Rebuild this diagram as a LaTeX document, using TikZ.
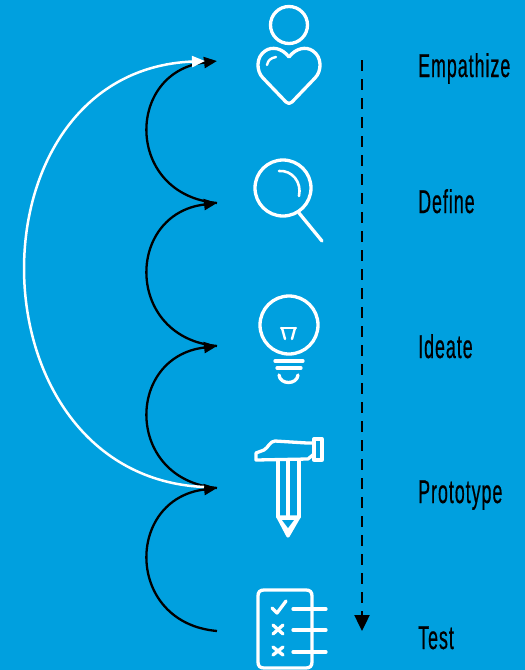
\documentclass[tikz,border=0pt]{standalone}
\usepackage{fontspec}
\setmainfont[FakeStretch=0.54, LetterSpace=3, FakeBold=0.5]{Liberation Sans}
\definecolor{ctrlBlue}{HTML}{00A0DF}
\usetikzlibrary{arrows.meta}
\begin{document}
\begin{tikzpicture}[x=1pt, y=-1pt,
    labelStyle/.style={anchor=base west, inner sep=0pt, text=black, font=\fontsize{33}{36}\selectfont},
    iconStyle/.style={draw=white, line width=3.3pt, line cap=round, line join=round},
    blackArrowStyle/.style={-{Triangle[length=13pt, width=11pt]}, black, line width=2.3pt},
    whiteArrowStyle/.style={-{Triangle[length=13pt, width=11pt]}, white, line width=2.5pt},
    dashArrowStyle/.style={-{Triangle[length=16pt, width=15pt]}, black, line width=2.4pt, dash pattern=on 11pt off 8pt}]

    % Background, fixes the page size
    \fill[ctrlBlue] (0, 0) rectangle (525, 670);
    \useasboundingbox (0, 0) rectangle (525, 670);

    % Stage labels
    \node[labelStyle] (sfEmpathize) at (418, 77) {Empathize};
    \node[labelStyle] (sfDefine) at (418, 213) {Define};
    \node[labelStyle] (sfIdeate) at (418, 358) {Ideate};
    \node[labelStyle] (sfPrototype) at (418, 503) {Prototype};
    \node[labelStyle] (sfTest) at (418, 649) {Test};

    % Arrow end points
    \coordinate (stepE) at (217, 61);
    \coordinate (stepEw) at (205, 61);
    \coordinate (stepD) at (217, 203);
    \coordinate (stepI) at (217, 346);
    \coordinate (stepP) at (217, 488);
    \coordinate (stepPw) at (204, 487);
    \coordinate (stepT) at (217, 631);
    \coordinate (flowTop) at (362, 60);
    \coordinate (flowEnd) at (362, 631);

    % Icons
    \draw[iconStyle] (289, 25) circle (18.5);
    \draw[iconStyle] (289, 57) .. controls (282, 48) and (272, 46) .. (265, 51)
        .. controls (256, 57) and (256, 71) .. (263, 78) -- (286, 102)
        .. controls (288, 104) and (290, 104) .. (292, 102) -- (315, 78)
        .. controls (322, 71) and (322, 57) .. (313, 51)
        .. controls (306, 46) and (296, 48) .. (289, 57);
    \draw[iconStyle, line width=2.4pt] (267, 65) .. controls (268, 60) and (271, 58) .. (276, 57);

    \draw[iconStyle] (283, 188) circle (28);
    \draw[iconStyle] (299, 213) -- (322, 241);
    \draw[iconStyle, line width=2.6pt] (279, 171) .. controls (292, 170) and (302, 182) .. (299, 196);

    \draw[iconStyle] (289, 325) circle (29);
    \draw[iconStyle, line width=2.4pt] (281, 328) -- (296, 328);
    \draw[iconStyle, line width=2.4pt] (282, 328) -- (285, 339);
    \draw[iconStyle, line width=2.4pt] (295, 328) -- (292, 339);
    \draw[iconStyle] (275, 361) -- (303, 361);
    \draw[iconStyle] (277, 368) -- (301, 368);
    \draw[iconStyle] (279, 375) .. controls (280, 385) and (297, 385) .. (298, 375);

    \draw[iconStyle] (256, 453) -- (256, 460) -- (308, 459) -- (314, 454) -- (314, 443)
        -- (307, 443) -- (275, 441) .. controls (270, 441) and (268, 448) .. (264, 450) -- cycle;
    \draw[iconStyle] (314, 439) rectangle (322, 460);
    \draw[iconStyle] (278, 460) -- (278, 517);
    \draw[iconStyle] (299, 460) -- (299, 517);
    \draw[iconStyle] (288, 460) -- (288, 517);
    \draw[iconStyle, fill=white] (278, 517) -- (288, 536) -- (299, 517) -- cycle;
    \fill[ctrlBlue] (282, 520) -- (294, 520) -- (288, 528) -- cycle;

    \draw[iconStyle] (258, 596) .. controls (258, 592) and (260, 590) .. (264, 590) -- (306, 590)
        .. controls (310, 590) and (312, 592) .. (312, 596) -- (312, 662)
        .. controls (312, 666) and (310, 668) .. (306, 668) -- (264, 668)
        .. controls (260, 668) and (258, 666) .. (258, 662) -- cycle;
    \draw[iconStyle] (272, 608) -- (277, 613) -- (286, 601);
    \draw[iconStyle] (273, 625) -- (283, 634);
    \draw[iconStyle] (283, 625) -- (273, 634);
    \draw[iconStyle] (273, 647) -- (283, 655);
    \draw[iconStyle] (283, 647) -- (273, 655);
    \draw[iconStyle] (293, 609) -- (326, 609);
    \draw[iconStyle] (293, 630) -- (326, 630);
    \draw[iconStyle] (293, 652) -- (326, 652);

    % Connectors
    \draw[dashArrowStyle] (flowTop) -- (flowEnd);
    \draw[blackArrowStyle] (stepT) .. controls (125, 623) and (125, 499) .. (stepP);
    \draw[blackArrowStyle] (stepP) .. controls (125, 480) and (125, 357) .. (stepI);
    \draw[blackArrowStyle] (stepI) .. controls (125, 338) and (125, 214) .. (stepD);
    \draw[blackArrowStyle] (stepD) .. controls (125, 195) and (125, 72) .. (stepE);
    \draw[whiteArrowStyle] (stepPw) .. controls (-32, 476) and (-36, 71) .. (stepEw);
\end{tikzpicture}
\end{document}
